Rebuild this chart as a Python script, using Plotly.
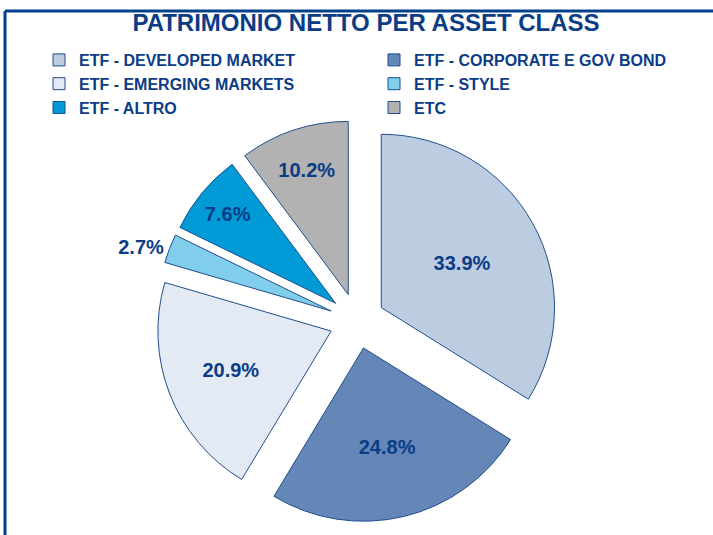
import plotly.graph_objects as go

categories = ["ETF - DEVELOPED MARKET", "ETF - CORPORATE E GOV BOND", "ETF - EMERGING MARKETS",
              "ETF - STYLE", "ETF - ALTRO", "ETC"]
values = [33.9, 24.8, 20.9, 2.7, 7.6, 10.2]
colors = ["#BDCDE1", "#6487B7", "#E3EAF3", "#80CEEB", "#009BD7", "#B2B2B2"]
text_positions = ["inside", "inside", "inside", "outside", "inside", "inside"]

W, H = 713, 535
cx, cy = 357, 321
half = 201
navy = "#0B3C86"
FONT = "Liberation Sans, Arial"

fig = go.Figure(go.Pie(
    labels=categories, values=values, sort=False, direction="clockwise", rotation=0,
    marker=dict(colors=colors, line=dict(color="#1F4E8C", width=1)),
    pull=[0.16] * len(values),
    texttemplate="%{value:.1f}%", textposition=text_positions,
    insidetextorientation="horizontal",
    textfont=dict(family=FONT, size=20, color=navy, weight="bold"),
    domain=dict(x=[(cx - half) / W, (cx + half) / W], y=[(H - cy - half) / H, (H - cy + half) / H]),
    hoverinfo="label+percent",
))

fig.update_layout(
    width=W, height=H, margin=dict(l=0, r=0, t=0, b=0, autoexpand=False),
    paper_bgcolor="white", plot_bgcolor="white",
    title=dict(text="PATRIMONIO NETTO PER ASSET CLASS", x=366 / W, xanchor="center",
               y=1 - 23 / H, yanchor="middle",
               font=dict(family=FONT, size=24, color=navy, weight="bold")),
    legend=dict(orientation="h", xref="container", yref="container",
                x=39 / W, y=1 - 43 / H, xanchor="left", yanchor="top",
                entrywidth=290, entrywidthmode="pixels", traceorder="normal",
                font=dict(family=FONT, size=16, color=navy, weight="bold"),
                itemwidth=30, bgcolor="rgba(0,0,0,0)"),
    shapes=[
        dict(type="line", xref="paper", yref="paper", x0=5 / W, x1=1, y0=1 - 11 / H, y1=1 - 11 / H,
             line=dict(color="#003F8A", width=3)),
        dict(type="line", xref="paper", yref="paper", x0=5 / W, x1=5 / W, y0=0, y1=1 - 11 / H,
             line=dict(color="#003F8A", width=3)),
    ],
)
fig.write_html("out.html", config={"displayModeBar": False},
               post_script="document.body.style.margin='0px';")
